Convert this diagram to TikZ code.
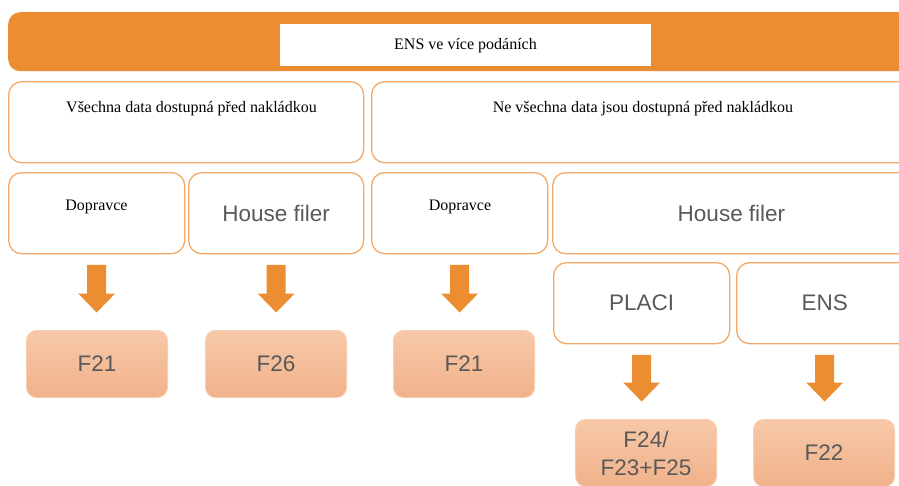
\documentclass[tikz,border=0pt]{standalone}
\usepackage{fontspec}
\setmainfont{Liberation Serif}
\newfontfamily\arialf{Liberation Sans}
\usetikzlibrary{calc}
\definecolor{bannerc}{RGB}{237,141,49}
\definecolor{boxc}{RGB}{243,168,104}
\definecolor{restop}{RGB}{247,200,168}
\definecolor{resbot}{RGB}{240,178,138}
\definecolor{resedge}{RGB}{248,206,178}
\definecolor{graytext}{RGB}{89,89,89}
\tikzset{
  wbox/.style={draw=boxc, line width=1.3pt, rounded corners=13pt, fill=white,
    rectangle, anchor=north west, inner sep=0pt},
  resbox/.style={rectangle, rounded corners=10pt, top color=restop, bottom color=resbot,
    draw=resedge, line width=1pt, anchor=north west, inner sep=0pt,
    minimum width=141pt, minimum height=67pt},
  serift/.style={font=\fontsize{16}{19}\selectfont, text=black, inner sep=0pt},
  sanst/.style={font=\arialf\fontsize{22.5}{28}\selectfont, text=graytext, inner sep=0pt, align=center},
}
\newcommand\blkarrow[2]{%
  \coordinate (bt) at ($(#1.south)+(0,10.5)$);
  \coordinate (bq) at ($(#2.north)+(0,-17.5)$);
  \coordinate (bp) at (bt |- bq);
  \coordinate (bh) at ($(bp)+(0,-19)$);
  \fill[bannerc] ($(bt)+(-9.5,0)$) -- ($(bt)+(9.5,0)$) -- ($(bh)+(9.5,0)$) -- ($(bh)+(18.5,0)$)
    -- (bp) -- ($(bh)+(-18.5,0)$) -- ($(bh)+(-9.5,0)$) -- cycle;
}
\begin{document}
\begin{tikzpicture}[x=1pt,y=-1pt]
\useasboundingbox (0,0) rectangle (899,485);
\clip (0,0) rectangle (899,485);
% banner
\node[rectangle, rounded corners=12pt, fill=bannerc, anchor=north west, inner sep=0pt,
  minimum width=915pt, minimum height=59pt] (banner) at (8,12) {};
\node[rectangle, fill=white, anchor=north west, inner sep=0pt,
  minimum width=371pt, minimum height=42pt] (title) at (280,24) {};
\node[serift] (titletext) at (465.5,46) {ENS ve více podáních};
% row 1
\node[wbox, minimum width=355pt, minimum height=81pt] (all) at (8,81) {};
\node[wbox, minimum width=544pt, minimum height=81pt] (notall) at (371,81) {};
\node[serift] (alltext) at (191.5,108.5) {Všechna data dostupná před nakládkou};
\node[serift] (notalltext) at (643,108.5) {Ne všechna data jsou dostupná před nakládkou};
% row 2
\node[wbox, minimum width=176pt, minimum height=81pt] (dop1) at (8,172) {};
\node[serift] (dop1text) at (96.5,207) {Dopravce};
\node[wbox, minimum width=175pt, minimum height=81pt, anchor=north west] (hf1) at (188,172) {};
\node[sanst] (hf1text) at (hf1.center) {House filer};
\node[wbox, minimum width=176pt, minimum height=81pt] (dop2) at (371,172) {};
\node[serift] (dop2text) at (460,207) {Dopravce};
\node[wbox, minimum width=359pt, minimum height=81pt] (hf2) at (552,172) {};
\node[sanst] (hf2text) at (731.5,213) {House filer};
% row 3
\node[wbox, minimum width=176pt, minimum height=81pt] (placi) at (553,262) {};
\node[sanst] (placitext) at (placi.center) {PLACI};
\node[wbox, minimum width=176pt, minimum height=81pt] (ens) at (736,262) {};
\node[sanst] (enstext) at (ens.center) {ENS};
% result boxes
\node[resbox] (r1) at (26,330) {};
\node[sanst] at (r1.center) {F21};
\node[resbox] (r2) at (205,330) {};
\node[sanst] at (r2.center) {F26};
\node[resbox] (r3) at (393,330) {};
\node[sanst] at (r3.center) {F21};
\node[resbox] (r4) at (575,419) {};
\node[sanst] at ($(r4.north)+(0,34)$) {F24/\\F23+F25};
\node[resbox] (r5) at (753,419) {};
\node[sanst] at ($(r5.north)+(0,34)$) {F22};
% arrows
\blkarrow{dop1}{r1}
\blkarrow{hf1}{r2}
\blkarrow{dop2}{r3}
\blkarrow{placi}{r4}
\blkarrow{ens}{r5}
\end{tikzpicture}
\end{document}
